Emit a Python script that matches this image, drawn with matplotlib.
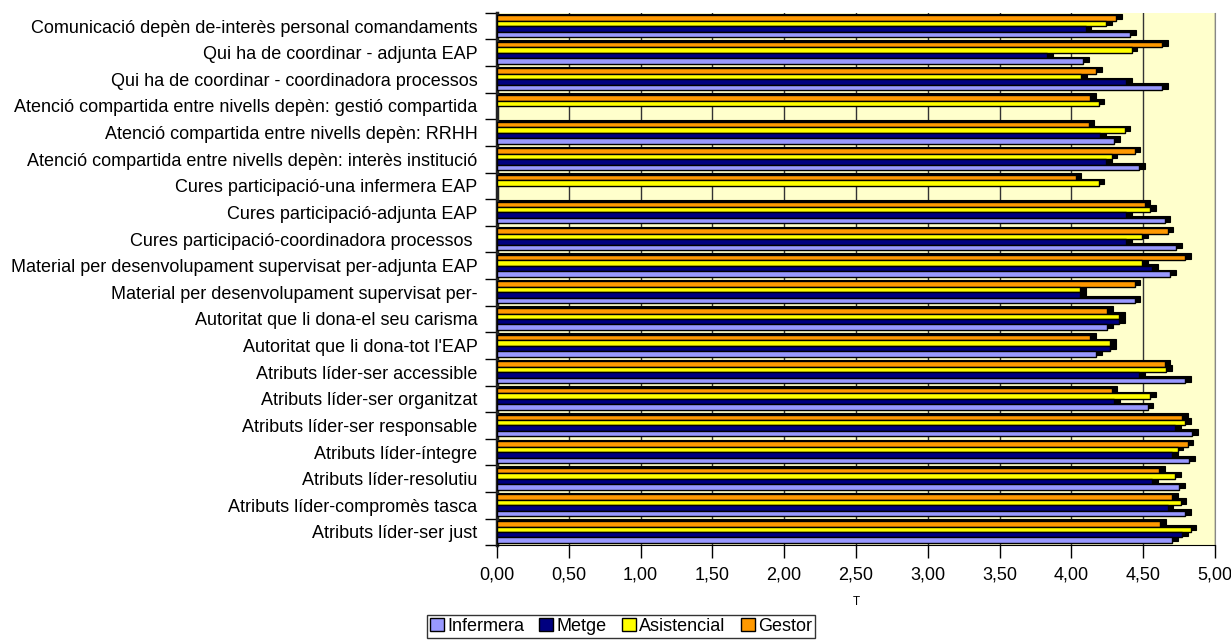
import matplotlib.pyplot as plt
import numpy as np
from matplotlib.ticker import FuncFormatter, MultipleLocator

plt.rcParams['font.family'] = ['Liberation Sans', 'DejaVu Sans']

categories = [
    "Comunicació depèn de-interès personal comandaments",
    "Qui ha de coordinar - adjunta EAP",
    "Qui ha de coordinar - coordinadora processos",
    "Atenció compartida entre nivells depèn: gestió compartida",
    "Atenció compartida entre nivells depèn: RRHH",
    "Atenció compartida entre nivells depèn: interès institució",
    "Cures participació-una infermera EAP",
    "Cures participació-adjunta EAP",
    "Cures participació-coordinadora processos ",
    "Material per desenvolupament supervisat per-adjunta EAP",
    "Material per desenvolupament supervisat per-",
    "Autoritat que li dona-el seu carisma",
    "Autoritat que li dona-tot l'EAP",
    "Atributs líder-ser accessible",
    "Atributs líder-ser organitzat",
    "Atributs líder-ser responsable",
    "Atributs líder-íntegre",
    "Atributs líder-resolutiu",
    "Atributs líder-compromès tasca",
    "Atributs líder-ser just",
]

nan = np.nan
infermera = [4.41, 4.08, 4.63, nan, 4.30, 4.47, nan, 4.65, 4.73, 4.69,
             4.44, 4.25, 4.17, 4.79, 4.53, 4.84, 4.82, 4.75, 4.79, 4.70]
metge = [4.10, 3.83, 4.38, nan, 4.20, 4.24, nan, 4.38, 4.38, 4.56,
         4.06, 4.33, 4.27, 4.47, 4.30, 4.72, 4.70, 4.56, 4.67, 4.77]
asistencial = [4.24, 4.42, 4.07, 4.19, 4.37, 4.28, 4.19, 4.55, 4.49, 4.49,
               4.06, 4.33, 4.27, 4.66, 4.55, 4.79, 4.74, 4.72, 4.76, 4.83]
gestor = [4.31, 4.63, 4.17, 4.13, 4.12, 4.44, 4.03, 4.51, 4.67, 4.79,
          4.44, 4.25, 4.13, 4.65, 4.28, 4.77, 4.81, 4.61, 4.70, 4.62]

# drawn top to bottom inside each group
series = [("Gestor", gestor, '#FF9900'),
          ("Asistencial", asistencial, '#FFFF00'),
          ("Metge", metge, '#000080'),
          ("Infermera", infermera, '#9999FF')]

fig = plt.figure(figsize=(12.31, 6.4), dpi=100)
ax = fig.add_axes([0.4037, 0.148, 0.5833, 0.832])
ax.set_facecolor('#FFFFCC')

y = np.arange(len(categories))
bh = 0.205
offsets = [-1.5 * bh, -0.5 * bh, 0.5 * bh, 1.5 * bh]

handles = {}
for (name, vals, color), off in zip(series, offsets):
    vals = np.array(vals)
    ok = ~np.isnan(vals)
    # dark depth behind each bar, gives the 3D end cap
    ax.barh(y[ok] + off - 0.06, vals[ok] + 0.04, height=bh, color='black',
            edgecolor='black', linewidth=0.8, zorder=2)
    b = ax.barh(y[ok] + off, vals[ok], height=bh, color=color,
                edgecolor='black', linewidth=1.0, zorder=3)
    handles[name] = b

ax.set_xlim(0, 5)
ax.set_ylim(len(categories) - 0.5, -0.5)
ax.xaxis.set_major_locator(MultipleLocator(0.5))
ax.xaxis.set_major_formatter(FuncFormatter(lambda v, p: f"{v:.2f}".replace('.', ',')))
ax.grid(axis='x', color='#333333', linewidth=1.0, zorder=1)
ax.set_axisbelow(True)

ax.set_yticks(y)
ax.set_yticklabels(categories, fontsize=13)
ax.set_yticks(np.arange(len(categories) + 1) - 0.5, minor=True)
ax.tick_params(axis='y', which='major', length=0, pad=14)
ax.tick_params(axis='y', which='minor', length=9, width=1, color='black')
ax.tick_params(axis='x', length=9, width=1, labelsize=13, pad=6)

ax.spines['top'].set_visible(False)
ax.spines['right'].set_color('#888888')
ax.spines['left'].set_linewidth(2.5)
ax.spines['left'].set_color('#222222')
ax.spines['bottom'].set_color('black')

ax.set_xlabel('T', fontsize=8.5, labelpad=9)

order = ["Infermera", "Metge", "Asistencial", "Gestor"]
leg = fig.legend([handles[n] for n in order], order, loc='center',
                 bbox_to_anchor=(0.5045, 0.021), ncol=4, fontsize=13,
                 frameon=True, fancybox=False, handlelength=0.75,
                 handleheight=0.75, handletextpad=0.2, columnspacing=0.85,
                 borderpad=0.15, borderaxespad=0)
leg.get_frame().set_edgecolor('black')
leg.get_frame().set_linewidth(1.0)

fig.savefig('out.png', dpi=100)
